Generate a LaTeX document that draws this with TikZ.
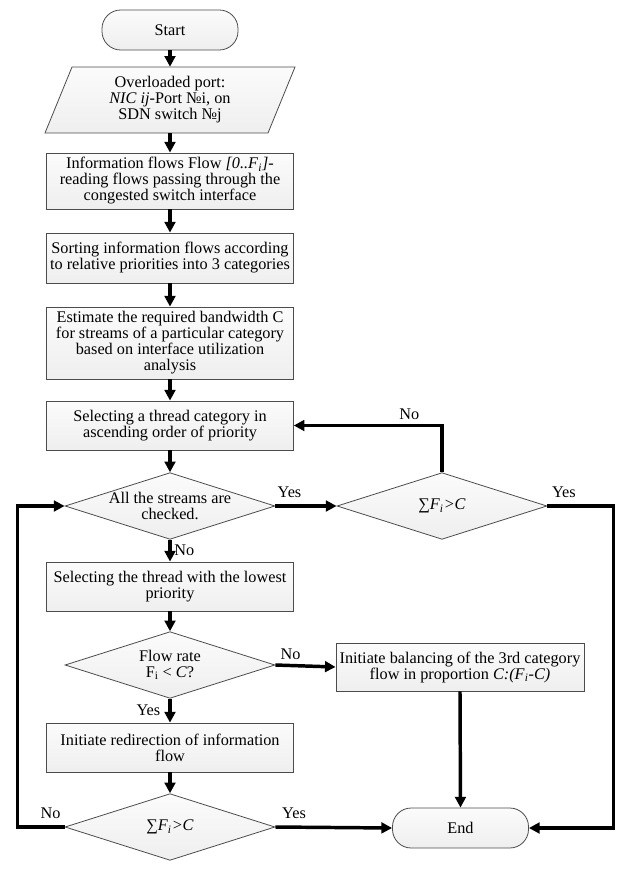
\documentclass[tikz,border=0pt]{standalone}
\usepackage{fontspec}
\setmainfont{Liberation Serif}
\usetikzlibrary{shapes.geometric,arrows.meta}

\begin{document}
\begin{tikzpicture}[x=0.75pt,y=-0.75pt,
  font={\fontsize{12.2}{12}\selectfont},
  procbox/.style={draw=gray!60!black, line width=0.6pt, top color=gray!3,
    bottom color=gray!13, minimum width=185pt, align=center, inner sep=2pt},
  decision/.style={draw=gray!60!black, line width=0.6pt, shape=diamond,
    top color=gray!3, bottom color=gray!13, minimum width=157.5pt,
    minimum height=50pt, inner sep=0pt},
  terminal/.style={draw=gray!60!black, line width=0.6pt, rounded corners=14pt,
    top color=gray!3, bottom color=gray!13, minimum width=102pt,
    minimum height=30pt},
  flow/.style={line width=2.6pt, -{Triangle[length=8pt,width=8pt]}},
  answer/.style={inner sep=2pt}]

\useasboundingbox (0,0) rectangle (632,878);

\node [terminal] (start) at (170,30) {Start};

\draw [draw=gray!60!black, line width=0.6pt, top color=gray!3, bottom color=gray!13]
 (72,67) -- (295,67) -- (268,133) -- (45,133) -- cycle;
\node [align=center, minimum height=49.5pt, inner sep=0pt] (port) at (170,100)
 {Overloaded port:\\\textit{NIC ij}-Port №i, on\\SDN switch №j};

\node [procbox, minimum height=42pt] (info) at (170,181)
 {Information flows Flow \textit{[0..F}\textsubscript{\textit{i}}\textit{]}-\\reading flows passing through the\\congested switch interface};

\node [procbox, minimum height=37.5pt] (sort) at (170,258)
 {Sorting information flows according\\to relative priorities into 3 categories};

\node [procbox, minimum height=54pt] (estim) at (170,343)
 {Estimate the required bandwidth C\\for streams of a particular category\\based on interface utilization\\analysis};

\node [procbox, minimum height=36.75pt] (sel) at (170,425.5)
 {Selecting a thread category in\\ascending order of priority};

\node [decision, label={[align=center]center:{All the streams are\\checked.}}] (check) at (170,506) {};

\node [decision, label={center:{∑\textit{F}\textsubscript{\textit{i}}\textit{>C}}}] (sum1) at (442,506) {};

\node [procbox, minimum height=36.75pt] (thread) at (170,586.5)
 {Selecting the thread with the lowest\\priority};

\node [decision, label={[align=center]center:{Flow rate\\F\textsubscript{i} < \textit{C}?}}] (rate) at (170,665) {};

\node [procbox, minimum width=186pt, minimum height=36pt] (bal) at (460,667)
 {Initiate balancing of the 3rd category\\flow in proportion \textit{C:(F}\textsubscript{\textit{i}}\textit{-C)}};

\node [procbox, minimum height=36.75pt] (redir) at (170,747.5)
 {Initiate redirection of information\\flow};

\node [decision, label={center:{∑\textit{F}\textsubscript{\textit{i}}\textit{>C}}}] (sum2) at (170,827) {};

\node [terminal] (end) at (460.5,828) {End};

\draw [flow] (start.south) -- (port.north);
\draw [flow] (port.south) -- (info.north);
\draw [flow] (info.south) -- (sort.north);
\draw [flow] (sort.south) -- (estim.north);
\draw [flow] (estim.south) -- (sel.north);
\draw [flow] (sel.south) -- (check.north);

\draw [flow] (check.east) -- node [answer, above, yshift=3pt, pos=0.23] (yes1) {Yes} (sum1.west);
\draw [flow] (sum1.north) |- node [answer, above, yshift=1pt, pos=0.61] (no1) {No} (sel.east);
\draw [flow] (sum1.east) -- node [answer, above, yshift=3pt, pos=0.25] (yes2) {Yes} ++(66,0) |- (end.east);

\draw [flow] (check.south) -- node [answer, right] (no2) {No} (thread.north);
\draw [flow] (thread.south) -- (rate.north);

\draw [flow] (rate.east) -- node [answer, above, yshift=1pt, pos=0.25] (no3) {No} (bal.west);
\draw [flow] (rate.south) -- node [answer, left, xshift=-4pt] (yes3) {Yes} (redir.north);
\draw [flow] (redir.south) -- (sum2.north);

\draw [flow] (sum2.east) -- node [answer, above, yshift=3pt, pos=0.16] (yes4) {Yes} (end.west);
\draw [flow] (sum2.west) -- node [answer, above, yshift=3pt, pos=0.3] (no4) {No} ++(-47,0) |- (check.west);
\draw [flow] (bal.south) -- (end.north);

\end{tikzpicture}
\end{document}
